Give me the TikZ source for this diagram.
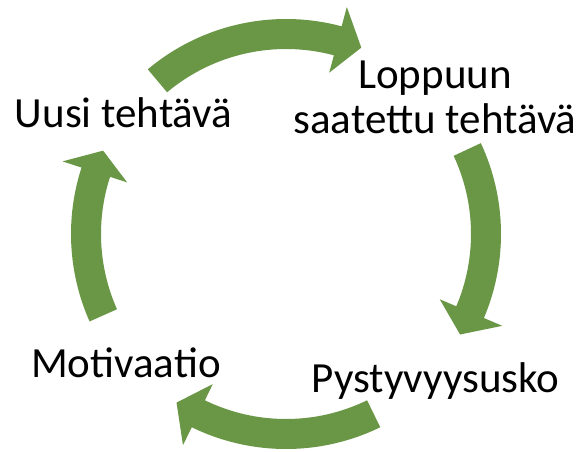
\documentclass[tikz,border=0pt]{standalone}
\usepackage{fontspec}
\setmainfont{Carlito}
\definecolor{cyclegreen}{RGB}{106,151,70}
\begin{document}
\begin{tikzpicture}[x=1pt,y=1pt,
  lbl/.style={inner sep=0pt,font=\fontsize{43}{45}\selectfont,align=center,anchor=base},
  blockarrow/.style={fill=cyclegreen}]
\useasboundingbox (0,-451) rectangle (579,0);
% curved block arrows (tail angle, head base angle, tip angle)
\newcommand\cyclearrow[3]{%
  \fill[blockarrow] (#1:215) arc[start angle=#1,end angle=#2,radius=215]
    -- (#2:235) -- (#3:201) -- (#2:167) -- (#2:185)
    arc[start angle=#2,end angle=#1,radius=185] -- cycle;}
\begin{scope}[shift={(286,-234)}]
  \cyclearrow{130}{75}{68}
  \cyclearrow{25}{-23}{-30}
  \cyclearrow{-64}{-116}{-123}
  \cyclearrow{204}{162}{155.5}
\end{scope}
\node[lbl] (uusi) at (123.5,-127) {Uusi tehtävä};
\node[lbl] (loppu) at (435,-133) {Loppuun\\saatettu tehtävä};
\node[lbl] (pysty) at (435.5,-392) {Pystyvyysusko};
\node[lbl] (moti) at (126,-377) {Motivaatio};
\end{tikzpicture}
\end{document}
